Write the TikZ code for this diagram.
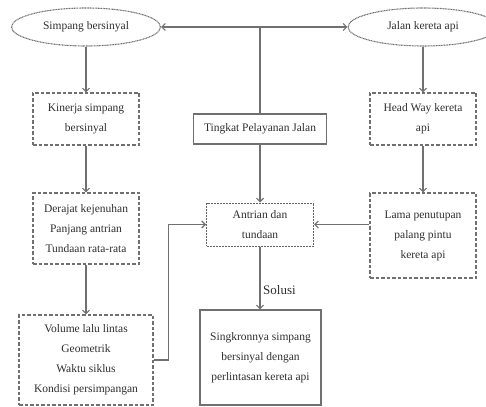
\documentclass[tikz,border=0pt]{standalone}
\usepackage{fontspec}
\setmainfont{Liberation Serif}
\usetikzlibrary{shapes.geometric,arrows.meta}
\definecolor{ln}{HTML}{707070}
\definecolor{tx}{HTML}{2E2E2E}
\begin{document}
\begin{tikzpicture}[x=1pt,y=-1pt,
  every node/.style={text=tx, font=\fontsize{11.5}{20}\selectfont, align=center, inner sep=0pt},
  ell/.style={ellipse, draw=ln, line width=1.1pt, dash pattern=on 1pt off 0.6pt, minimum width=149pt, minimum height=38pt},
  dbox/.style={rectangle, draw=ln, line width=1.1pt, dash pattern=on 3.5pt off 2pt},
  sbox/.style={rectangle, draw=ln, line width=1.3pt},
  obox/.style={rectangle, draw=ln!90!black, line width=1pt, dash pattern=on 1pt off 0.5pt},
  conn/.style={draw=ln, line width=1.1pt},
  tip/.tip={Straight Barb[length=3.5pt,width=7pt]},
  arr/.style={conn, -tip},
]
\useasboundingbox (0,0) rectangle (486,406);
\node[ell] (simp) at (86,27) {Simpang bersinyal};
\node[ell, minimum width=150pt] (jal) at (423,27) {Jalan kereta api};
\node[sbox, minimum width=133pt, minimum height=30pt] (tpj) at (260,129) {Tingkat Pelayanan Jalan};
\node[obox, minimum width=107pt, minimum height=43pt] (ant) at (260,224.5) {Antrian dan\\tundaan};
\node[dbox, minimum width=106pt, minimum height=52pt] (kin) at (86,119) {Kinerja simpang\\bersinyal};
\node[dbox, minimum width=106pt, minimum height=71pt] (der) at (86,228.5) {Derajat kejenuhan\\Panjang antrian\\Tundaan rata-rata};
\node[dbox, minimum width=134pt, minimum height=90pt] (vol) at (86,360) {Volume lalu lintas\\Geometrik\\Waktu siklus\\Kondisi persimpangan};
\node[dbox, minimum width=106pt, minimum height=52pt] (hw) at (423,119) {Head Way kereta\\api};
\node[dbox, minimum width=106pt, minimum height=85pt] (lama) at (423,235.5) {Lama penutupan\\palang pintu\\kereta api};
\node[sbox, minimum width=121pt, minimum height=95pt] (sing) at (260.5,357.5) {Singkronnya simpang\\bersinyal dengan\\perlintasan kereta api};
\node[anchor=west, font=\fontsize{13}{15}\selectfont] (sol) at (263,290) {Solusi};

\draw[conn, tip-tip] (simp.east) -- (jal.west);
\draw[conn] (tpj.north) -- (tpj.north |- simp.east);
\draw[arr] (tpj.south) -- (ant.north);
\draw[arr] (simp.south) -- (kin.north);
\draw[arr] (kin.south) -- (der.north);
\draw[arr] (der.south) -- (vol.north);
\draw[arr] (vol.east) -- ++(15,0) |- (ant.west);
\draw[arr] (jal.south) -- (hw.north);
\draw[arr] (hw.south) -- (lama.north);
\draw[arr] (lama.west |- ant.east) -- (ant.east);
\draw[arr] (ant.south) -- (ant.south |- sing.north);
\end{tikzpicture}
\end{document}
